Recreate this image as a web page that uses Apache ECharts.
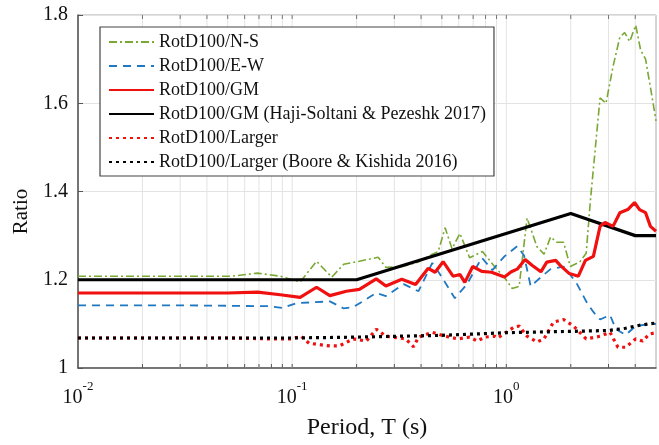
<!DOCTYPE html>
<html>
<head>
<meta charset="utf-8">
<script src="https://cdn.jsdelivr.net/npm/echarts@6/dist/echarts.min.js"></script>
<style>
  html, body { margin: 0; padding: 0; background: #fff; }
  #chart { width: 659px; height: 445px; }
</style>
</head>
<body>
<div id="chart"></div>
<script>
// periods (s) and RotD100 ratios
const nsPeriods = [0.01, 0.03, 0.052, 0.069, 0.088, 0.109, 0.13, 0.153, 0.174, 0.206, 0.252, 0.274, 0.328, 0.389, 0.451, 0.481, 0.518, 0.558, 0.607, 0.674, 0.774, 0.881, 0.98, 1.066, 1.148, 1.25, 1.39, 1.5, 1.61, 1.72, 1.85, 1.99, 2.2, 2.36, 2.47, 2.6, 2.74, 2.92, 3.15, 3.39, 3.57, 3.77, 4.02, 4.24, 4.47, 4.81, 5.0]
const nsValues = [1.208, 1.208, 1.208, 1.215, 1.208, 1.195, 1.242, 1.206, 1.235, 1.242, 1.251, 1.228, 1.23, 1.24, 1.258, 1.264, 1.318, 1.27, 1.305, 1.25, 1.264, 1.23, 1.205, 1.18, 1.185, 1.34, 1.275, 1.258, 1.297, 1.285, 1.285, 1.23, 1.24, 1.26, 1.38, 1.495, 1.612, 1.6, 1.683, 1.75, 1.76, 1.74, 1.777, 1.72, 1.7, 1.61, 1.56]

const ewPeriods = [0.01, 0.03, 0.05, 0.077, 0.09, 0.105, 0.15, 0.174, 0.193, 0.247, 0.274, 0.332, 0.389, 0.451, 0.491, 0.575, 0.655, 0.768, 0.861, 0.98, 1.124, 1.21, 1.3, 1.45, 1.61, 1.85, 2.12, 2.36, 2.55, 2.74, 3.05, 3.25, 3.61, 4.02, 4.71, 5.0]
const ewValues = [1.142, 1.142, 1.141, 1.14, 1.136, 1.147, 1.151, 1.135, 1.138, 1.17, 1.163, 1.19, 1.174, 1.238, 1.212, 1.158, 1.19, 1.25, 1.222, 1.253, 1.276, 1.255, 1.185, 1.206, 1.224, 1.23, 1.194, 1.151, 1.127, 1.11, 1.12, 1.088, 1.075, 1.095, 1.1, 1.1]

const gmPeriods = [0.01, 0.03, 0.05, 0.069, 0.088, 0.109, 0.13, 0.15, 0.179, 0.206, 0.247, 0.274, 0.325, 0.377, 0.432, 0.465, 0.507, 0.564, 0.607, 0.64, 0.697, 0.768, 0.853, 0.98, 1.055, 1.124, 1.224, 1.318, 1.45, 1.545, 1.7, 1.79, 1.97, 2.17, 2.34, 2.55, 2.74, 2.89, 3.15, 3.39, 3.69, 3.97, 4.19, 4.47, 4.71, 5.0]
const gmValues = [1.17, 1.17, 1.17, 1.172, 1.166, 1.16, 1.183, 1.164, 1.174, 1.178, 1.202, 1.186, 1.201, 1.189, 1.226, 1.217, 1.241, 1.208, 1.212, 1.194, 1.23, 1.219, 1.217, 1.206, 1.218, 1.224, 1.246, 1.233, 1.218, 1.24, 1.244, 1.232, 1.214, 1.208, 1.244, 1.253, 1.321, 1.33, 1.321, 1.352, 1.359, 1.375, 1.359, 1.352, 1.321, 1.31]

const hsPeriods = [0.01, 0.2, 2, 4, 5]
const hsValues = [1.2, 1.2, 1.35, 1.3, 1.3]

const lgPeriods = [0.01, 0.03, 0.05, 0.08, 0.1, 0.11, 0.12, 0.15, 0.166, 0.193, 0.222, 0.247, 0.274, 0.339, 0.369, 0.389, 0.451, 0.518, 0.594, 0.674, 0.734, 0.792, 0.881, 0.91, 1.089, 1.148, 1.25, 1.39, 1.5, 1.66, 1.85, 2.06, 2.36, 2.74, 3.05, 3.32, 3.61, 4.02, 4.33, 4.66, 5.0]
const lgValues = [1.068, 1.068, 1.068, 1.066, 1.066, 1.072, 1.056, 1.05, 1.05, 1.066, 1.061, 1.088, 1.072, 1.066, 1.048, 1.07, 1.081, 1.072, 1.066, 1.07, 1.061, 1.07, 1.072, 1.068, 1.093, 1.095, 1.072, 1.059, 1.066, 1.104, 1.11, 1.095, 1.066, 1.072, 1.081, 1.047, 1.047, 1.066, 1.061, 1.077, 1.08]

const bkPeriods = [0.01, 0.1, 0.2, 0.5, 1, 2, 3, 3.6, 4.2, 5]
const bkValues = [1.068, 1.068, 1.07, 1.074, 1.08, 1.083, 1.085, 1.09, 1.097, 1.102]

// log grid lines / ticks
const gridPeriods = [0.02, 0.03, 0.04, 0.05, 0.06, 0.07, 0.08, 0.09, 0.1, 0.2, 0.3, 0.4, 0.5, 0.6, 0.7, 0.8, 0.9, 1, 2, 3, 4]

const names = [
  'RotD100/N-S',
  'RotD100/E-W',
  'RotD100/GM',
  'RotD100/GM (Haji-Soltani & Pezeshk 2017)',
  'RotD100/Larger',
  'RotD100/Larger (Boore & Kishida 2016)'
]

function pairs(xs, ys) {
  return xs.map((x, i) => [x, ys[i]])
}

const chart = echarts.init(document.getElementById('chart'))
const option = {
  animation: false,
  textStyle: { fontFamily: 'Liberation Serif' },
  grid: { left: 78, right: -5, top: 15, bottom: 76, show: true, borderColor: '#aaa', borderWidth: 1 },
  legend: {
    data: names,
    orient: 'vertical',
    left: 100,
    top: 27,
    padding: [5, 8, 4, 8],
    itemGap: 4,
    itemWidth: 45,
    itemHeight: 14,
    backgroundColor: '#fff',
    borderColor: '#444',
    borderWidth: 1.2,
    borderRadius: 0,
    itemStyle: { opacity: 0 },
    textStyle: { fontSize: 18, color: '#111', lineHeight: 20, fontFamily: 'Liberation Serif' }
  },
  xAxis: {
    type: 'log',
    logBase: 10,
    min: 0.01,
    max: 5,
    name: 'Period, T (s)',
    nameLocation: 'middle',
    nameGap: 48,
    nameTextStyle: { fontSize: 24, color: '#111' },
    axisLine: { lineStyle: { color: '#555', width: 1.5 } },
    axisTick: { show: false },
    splitLine: { show: false },
    axisLabel: {
      margin: 12,
      color: '#111',
      formatter: function (v) {
        const e = Math.log10(v)
        const r = Math.round(e)
        if (Math.abs(e - r) > 1e-6) return ''
        return '{b|10}{s|' + r + '}'
      },
      rich: {
        b: { fontSize: 20, lineHeight: 28, verticalAlign: 'bottom', color: '#111' },
        s: { fontSize: 13, lineHeight: 14, verticalAlign: 'top', color: '#111' }
      }
    }
  },
  yAxis: {
    type: 'value',
    min: 1,
    max: 1.8,
    interval: 0.2,
    name: 'Ratio',
    nameLocation: 'middle',
    nameGap: 46,
    nameTextStyle: { fontSize: 21, color: '#111', padding: [0, 40, 0, 0] },
    axisLine: { show: true, lineStyle: { color: '#555', width: 1.5 } },
    axisTick: { show: true, inside: true, length: 5, lineStyle: { color: '#555' } },
    splitLine: { show: true, lineStyle: { color: '#e3e3e3', width: 1 } },
    axisLabel: {
      margin: 10,
      fontSize: 20,
      color: '#111',
      formatter: function (v) { return String(Math.round(v * 10) / 10) }
    }
  },
  series: [
    {
      type: 'custom',
      silent: true,
      z: 1,
      data: gridPeriods.map(t => [t, 1]),
      encode: { x: 0, y: 1 },
      renderItem: function (params, api) {
        const top = api.coord([api.value(0), 1.8])
        const bot = api.coord([api.value(0), 1])
        return {
          type: 'group',
          children: [
            { type: 'line', shape: { x1: top[0], y1: top[1], x2: bot[0], y2: bot[1] }, style: { stroke: '#e3e3e3', lineWidth: 1 } },
            { type: 'line', shape: { x1: bot[0], y1: bot[1], x2: bot[0], y2: bot[1] - 4 }, style: { stroke: '#555', lineWidth: 1 } },
            { type: 'line', shape: { x1: top[0], y1: top[1], x2: top[0], y2: top[1] + 4 }, style: { stroke: '#777', lineWidth: 1 } }
          ]
        }
      }
    },
    {
      name: names[0], type: 'line', symbol: 'none', z: 3,
      lineStyle: { color: '#7aa834', width: 1.6, type: [8, 3, 2, 3] },
      itemStyle: { color: '#7aa834' },
      data: pairs(nsPeriods, nsValues)
    },
    {
      name: names[1], type: 'line', symbol: 'none', z: 3,
      lineStyle: { color: '#1f78c1', width: 1.8, type: [8, 6] },
      itemStyle: { color: '#1f78c1' },
      data: pairs(ewPeriods, ewValues)
    },
    {
      name: names[2], type: 'line', symbol: 'none', z: 5,
      lineStyle: { color: '#f01010', width: 3.2 },
      itemStyle: { color: '#f01010' },
      data: pairs(gmPeriods, gmValues)
    },
    {
      name: names[3], type: 'line', symbol: 'none', z: 4,
      lineStyle: { color: '#000', width: 3.2 },
      itemStyle: { color: '#000' },
      data: pairs(hsPeriods, hsValues)
    },
    {
      name: names[4], type: 'line', symbol: 'none', z: 4,
      lineStyle: { color: '#f01010', width: 3.2, type: [3, 4] },
      itemStyle: { color: '#f01010' },
      data: pairs(lgPeriods, lgValues)
    },
    {
      name: names[5], type: 'line', symbol: 'none', z: 4,
      lineStyle: { color: '#000', width: 3.2, type: [3, 4] },
      itemStyle: { color: '#000' },
      data: pairs(bkPeriods, bkValues)
    }
  ]
}
chart.setOption(option)
</script>
</body>
</html>
